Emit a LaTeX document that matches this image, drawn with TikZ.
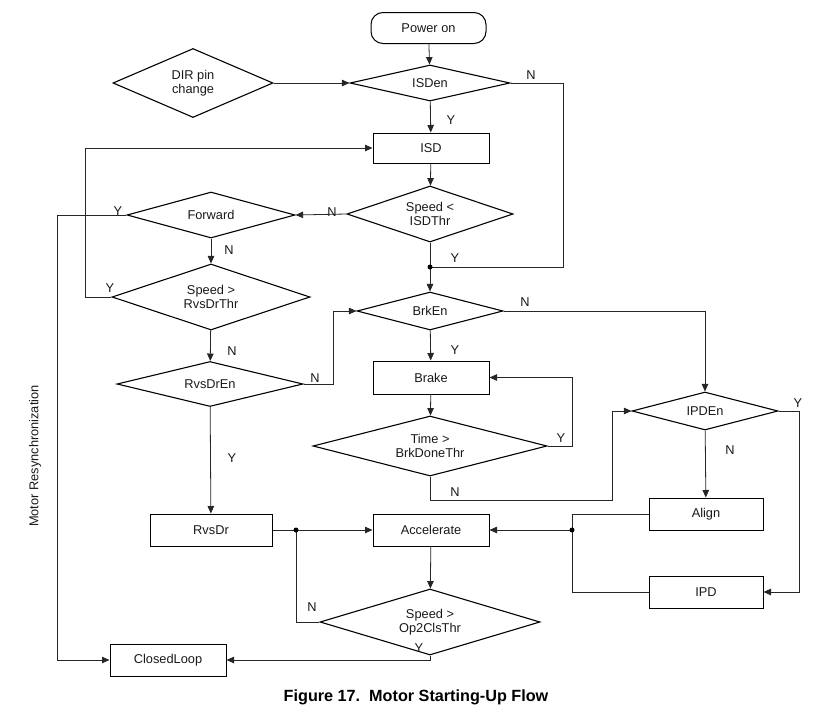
\documentclass[tikz,border=0pt]{standalone}
\usepackage{fontspec}
\setmainfont{Liberation Sans}
\usetikzlibrary{shapes.geometric,arrows.meta}
\begin{document}
\begin{tikzpicture}[x=1pt,y=-1pt,
  txt/.style={font=\fontsize{12.8}{14.5}\selectfont, text=black!90},
  box/.style={txt, draw, line width=1pt, minimum width=116pt, minimum height=32pt, inner sep=0pt},
  dia/.style={txt, draw, diamond, aspect=3, inner sep=0pt, line width=1.1pt, align=center},
  con/.style={line width=0.8pt, draw=black!85},
  arr/.style={con, -{Triangle[length=7.5pt,width=6.5pt]}},
  lab/.style={txt, inner sep=0pt}
]
\useasboundingbox (0,0) rectangle (817,715);

% nodes
\node[box, rounded corners=12pt, minimum width=115pt, minimum height=31pt] (pwr) at (428.5,28) {Power on};
\node[dia, minimum width=160pt, minimum height=36pt] (isden) at (430,83) {ISDen};
\node[dia, minimum width=160pt, minimum height=69pt] (dir) at (193,83) {DIR pin\\change};
\node[box, minimum height=30pt] (isd) at (431,148) {ISD};
\node[dia, minimum width=166pt, minimum height=56pt] (spd1) at (430,214) {Speed <\\ISDThr};
\node[dia, minimum width=168pt, minimum height=46pt] (fwd) at (211,215) {Forward};
\node[dia, minimum width=198pt, minimum height=66pt] (rvthr) at (211,297) {Speed >\\RvsDrThr};
\node[dia, minimum width=186pt, minimum height=45pt] (rvsdren) at (210,384) {RvsDrEn};
\node[box, minimum width=122pt] (rvsdr) at (211,530) {RvsDr};
\node[dia, minimum width=146pt, minimum height=38pt] (brken) at (430,311) {BrkEn};
\node[box, minimum height=33pt] (brake) at (431,377.5) {Brake};
\node[dia, minimum width=234pt, minimum height=60pt] (time) at (430,446) {Time >\\BrkDoneThr};
\node[dia, minimum width=146pt, minimum height=38pt] (ipden) at (705,411) {IPDEn};
\node[box, minimum width=114pt] (align) at (706,514) {Align};
\node[box, minimum width=114pt] (ipd) at (706,592) {IPD};
\node[box] (acc) at (431,530) {Accelerate};
\node[dia, minimum width=220pt, minimum height=66pt] (op2) at (430,622) {Speed >\\Op2ClsThr};
\node[box] (cl) at (168,660) {ClosedLoop};

\node[txt, rotate=90] (resync) at (35,456) {Motor Resynchronization};
\node[font=\bfseries\fontsize{16.2}{18}\selectfont] (cap) at (416,697) {Figure 17.\ \ Motor Starting-Up Flow};

% helper coordinates
\coordinate (j1) at (430,267);
\coordinate (cIsdN) at (563,267);
\coordinate (cFwdY) at (57,215);
\coordinate (cRv) at (85,297);
\coordinate (cRvEnN) at (333,384);
\coordinate (cTY) at (572,446);
\coordinate (cTN1) at (430,500);
\coordinate (cTN2) at (612,500);
\coordinate (cIY) at (799,411);
\coordinate (cA1) at (572,514);
\coordinate (cA2) at (572,592);
\coordinate (jA) at (572,530);
\coordinate (jR) at (296,530);
\coordinate (cO1) at (296,622);
\coordinate (cO2) at (430,660);

% connectors
\draw[arr] (pwr) -- (isden);
\draw[arr] (dir) -- (isden);
\draw[arr] (isden) -- (isd);
\draw[con] (isden.east) -| (cIsdN) -- (j1);
\draw[arr] (isd) -- (spd1);
\draw[arr] (spd1.west) -- (fwd.east);
\draw[arr] (spd1.south) -- (brken.north);
\draw[arr] (fwd.west) -- (cFwdY) |- (cl.west);
\draw[arr] (fwd) -- (rvthr);
\draw[arr] (rvthr.west) -- (cRv) |- (isd.west);
\draw[arr] (rvthr) -- (rvsdren);
\draw[arr] (rvsdren.east) -- (cRvEnN) |- (brken.west);
\draw[arr] (rvsdren) -- (rvsdr);
\draw[arr] (brken) -- (brake);
\draw[arr] (brken.east) -| (ipden.north);
\draw[arr] (brake) -- (time);
\draw[arr] (time.east) -- (cTY) |- (brake.east);
\draw[arr] (time.south) -- (cTN1) -- (cTN2) |- (ipden.west);
\draw[arr] (ipden.east) -- (cIY) |- (ipd.east);
\draw[arr] (ipden) -- (align);
\draw[con] (align.west) -- (cA1) -- (cA2) -- (ipd.west);
\draw[arr] (jA) -- (acc.east);
\draw[arr] (rvsdr.east) -- (acc.west);
\draw[arr] (acc) -- (op2);
\draw[con] (op2.west) -- (cO1) -- (jR);
\draw[arr] (op2.south) -- (cO2) -- (cl.east);

\fill[black] (j1) circle (2.5pt);
\fill[black] (jA) circle (2.5pt);
\fill[black] (jR) circle (2.5pt);

% labels
\node[lab] (l1) at (531,75) {N};
\node[lab] (l2) at (451,120) {Y};
\node[lab] (l3) at (332,212) {N};
\node[lab] (l4) at (118,211) {Y};
\node[lab] (l5) at (229,250) {N};
\node[lab] (l6) at (110,288) {Y};
\node[lab] (l7) at (232,351) {N};
\node[lab] (l8) at (315,378) {N};
\node[lab] (l9) at (232,458) {Y};
\node[lab] (l10) at (455,350) {Y};
\node[lab] (l11) at (525,302) {N};
\node[lab] (l12) at (561,438) {Y};
\node[lab] (l13) at (455,492) {N};
\node[lab] (l14) at (798,403) {Y};
\node[lab] (l15) at (730,450) {N};
\node[lab] (l16) at (312,607) {N};
\node[lab] (l17) at (419,648.5) {Y};
\node[lab] (l18) at (455,258) {Y};
\end{tikzpicture}
\end{document}
